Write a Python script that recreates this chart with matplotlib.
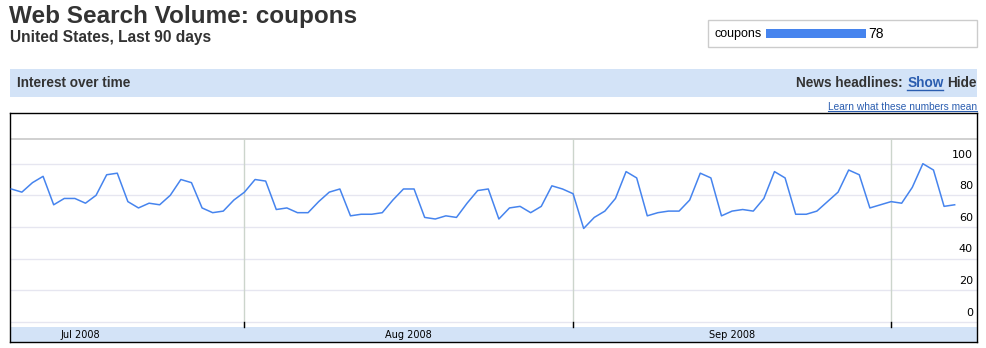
import matplotlib
matplotlib.use("Agg")
import matplotlib.pyplot as plt
import matplotlib.dates as mdates
from matplotlib.patches import Rectangle
from matplotlib.lines import Line2D
import pandas as pd

# ---- data ----
start_date = "2008-07-10"
values = [84, 82, 88, 92, 74, 78, 78, 75, 80, 93, 94, 76, 72, 75, 74, 80, 90, 88, 72, 69, 70, 77, 82,
          90, 89, 71, 72, 69, 69, 76, 82, 84, 67, 68, 68, 69, 77, 84, 84, 66, 65, 67, 66, 75, 83, 84,
          65, 72, 73, 69, 73, 86, 84, 81, 59, 66, 70, 78, 95, 91, 67, 69, 70, 70, 77, 94, 91, 67,
          70, 71, 70, 78, 95, 91, 68, 68, 70, 76, 82, 96, 93, 72, 74, 76, 75, 85, 100, 96, 73, 74]
month_starts = ["2008-07-01", "2008-08-01", "2008-09-01", "2008-10-01"]
month_labels = ["Jul 2008", "Aug 2008", "Sep 2008"]
y_ticks = [0, 20, 40, 60, 80, 100]
legend_term = "coupons"
legend_value = 78

title = "Web Search Volume: coupons"
subtitle = "United States, Last 90 days"

W, H = 987, 348
fig = plt.figure(figsize=(W / 100, H / 100), dpi=100)

def fx(x):
    return x / W

def fy(y):
    return 1 - y / H

DARK = "#333333"
BLUE = "#4684EE"
LINK = "#2A5DB0"
BAND = "#D3E3F7"

# ---- title ----
fig.text(fx(9), fy(17), title, fontsize=17.5, fontweight="bold", color=DARK,
         family="Liberation Sans", va="center", ha="left")
fig.text(fx(10), fy(37.5), subtitle, fontsize=11.2, fontweight="bold", color=DARK,
         family="Liberation Sans", va="center", ha="left")

# ---- legend box ----
fig.patches.append(Rectangle((fx(708.5), fy(46.5)), fx(977) - fx(708.5), fy(20) - fy(46.5),
                             transform=fig.transFigure, facecolor="none", edgecolor="#CCCCCC", lw=1))
fig.text(fx(715), fy(33.5), legend_term, fontsize=9, color="black", family="Liberation Sans",
         va="center", ha="left")
lax = fig.add_axes([fx(766), fy(37.7), fx(866) - fx(766), fy(29.3) - fy(37.7)])
lax.set_zorder(5)
lax.barh([0], [legend_value], height=1.0, color=BLUE)
lax.set_xlim(0, legend_value)
lax.set_ylim(-0.5, 0.5)
lax.axis("off")
fig.text(fx(868), fy(33.5), str(legend_value), fontsize=10, color="black", family="Liberation Sans",
         va="center", ha="left")

# ---- header band ----
fig.patches.append(Rectangle((fx(10), fy(97)), fx(977) - fx(10), fy(69) - fy(97),
                             transform=fig.transFigure, facecolor=BAND, edgecolor="none"))
fig.text(fx(17), fy(83), "Interest over time", fontsize=9.8, fontweight="bold", color=DARK,
         family="Liberation Sans", va="center", ha="left")

# ---- main axes ----
ax = fig.add_axes([fx(10), fy(342), fx(977) - fx(10), fy(113) - fy(342)])
px_per_unit = 1.58
ybot = (321.7 - 342) / px_per_unit
ytop = (321.7 - 113) / px_per_unit
yband = (321.7 - 327) / px_per_unit
yline = (321.7 - 139) / px_per_unit

dates = pd.date_range(start_date, periods=len(values), freq="D")
x0 = mdates.date2num(pd.Timestamp(start_date)) - 0.12
ax.set_xlim(x0, x0 + 967 / 10.6)
ax.set_ylim(ybot, ytop)

for v in y_ticks:
    ax.axhline(v, color="#E6E6F0", lw=1, zorder=1)
    ax.text(0.9959, v + 5.7, str(v), transform=ax.get_yaxis_transform(), ha="right", va="center",
            fontsize=8, color="black", family="DejaVu Sans", zorder=4)
ax.axhline(yline, color="#C8C8C8", lw=1.2, zorder=1)
ax.axhspan(ybot, yband, color=BAND, lw=0, zorder=2)

ms = [mdates.date2num(pd.Timestamp(m)) for m in month_starts]
for m in ms[1:]:
    ax.plot([m, m], [yband, yline], color="#CCD5CC", lw=1, zorder=1)
    ax.plot([m, m], [yband, 0], color="black", lw=1, zorder=3)
for i, lab in enumerate(month_labels):
    mid = (ms[i] + ms[i + 1]) / 2
    ax.text(mid, (ybot + yband) / 2, lab, ha="center", va="center", fontsize=7,
            family="DejaVu Sans", color="black", zorder=4)

ax.plot(mdates.date2num(dates), values, color=BLUE, lw=1.1, zorder=3)
ax.set_xticks([])
ax.set_yticks([])
for s in ax.spines.values():
    s.set_color("black")
    s.set_linewidth(1)

# ---- chained link texts ----
fig.canvas.draw()
r = fig.canvas.get_renderer()
inv = fig.transFigure.inverted()

t_hide = fig.text(fx(977), fy(83), "Hide", fontsize=9.8, fontweight="bold", color=DARK,
                  family="Liberation Sans", va="center", ha="right")
bb = t_hide.get_window_extent(r)
left = inv.transform((bb.x0, 0))[0] - fx(4)
t_show = fig.text(left, fy(83), "Show", fontsize=9.8, fontweight="bold", color=LINK,
                  family="Liberation Sans", va="center", ha="right")
bb2 = t_show.get_window_extent(r)
a = inv.transform((bb2.x0, 0))[0]
b = inv.transform((bb2.x1, 0))[0]
fig.lines.append(Line2D([a, b], [fy(89.5), fy(89.5)], transform=fig.transFigure, color=LINK, lw=1))
t_news = fig.text(a - fx(4), fy(83), "News headlines:", fontsize=9.8, fontweight="bold", color=DARK,
                  family="Liberation Sans", va="center", ha="right")

t_learn = fig.text(fx(977), fy(106.5), "Learn what these numbers mean", fontsize=7.3, color=LINK,
                   family="Liberation Sans", va="center", ha="right")
bb3 = t_learn.get_window_extent(r)
a3 = inv.transform((bb3.x0, 0))[0]
fig.lines.append(Line2D([a3, fx(977)], [fy(110.5), fy(110.5)], transform=fig.transFigure, color=LINK, lw=0.8))

fig.savefig("out.png", dpi=100)
